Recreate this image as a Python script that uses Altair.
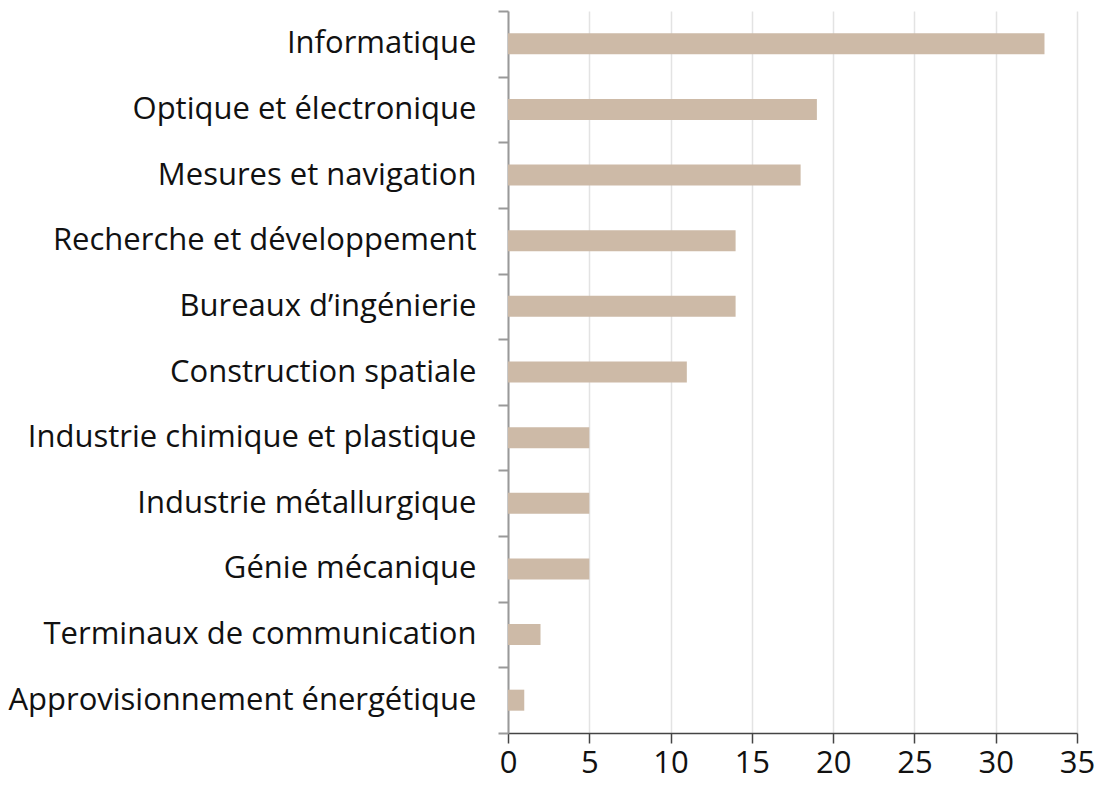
import altair as alt
import pandas as pd

categories = [
    "Informatique",
    "Optique et électronique",
    "Mesures et navigation",
    "Recherche et développement",
    "Bureaux d’ingénierie",
    "Construction spatiale",
    "Industrie chimique et plastique",
    "Industrie métallurgique",
    "Génie mécanique",
    "Terminaux de communication",
    "Approvisionnement énergétique",
]
values = [33, 19, 18, 14, 14, 11, 5, 5, 5, 2, 1]
x_ticks = [0, 5, 10, 15, 20, 25, 30, 35]

df = pd.DataFrame({"cat": categories, "val": values})

FONT = "Open Sans"

chart = (
    alt.Chart(df)
    .mark_bar(color="#cdbaa7", size=21)
    .encode(
        x=alt.X(
            "val:Q",
            scale=alt.Scale(domain=[0, 35], nice=False),
            axis=alt.Axis(
                values=x_ticks,
                title=None,
                grid=True,
                gridColor="#e3e3e3",
                gridWidth=1.5,
                domainColor="#444444",
                domainWidth=1.5,
                tickColor="#444444",
                tickWidth=1.5,
                tickSize=10,
                labelFlush=False,
                labelFont=FONT,
                labelFontSize=31,
                labelColor="#111111",
                labelPadding=5,
            ),
        ),
        y=alt.Y(
            "cat:N",
            sort=categories,
            scale=alt.Scale(paddingInner=0, paddingOuter=0),
            axis=alt.Axis(
                title=None,
                grid=False,
                tickBand="extent",
                domainColor="#999999",
                domainWidth=2,
                tickColor="#999999",
                tickWidth=2,
                tickSize=10,
                labelFont=FONT,
                labelFontSize=31,
                labelColor="#111111",
                labelPadding=22,
                labelLimit=0,
            ),
        ),
    )
    .properties(
        width=569,
        height=722,
        autosize=alt.AutoSizeParams(type="none"),
        padding={"left": 500, "top": 3, "right": 18, "bottom": 60},
        background="white",
    )
    .configure_view(stroke=None)
)

chart.save("out.html", embed_options={"renderer": "svg", "actions": False})
